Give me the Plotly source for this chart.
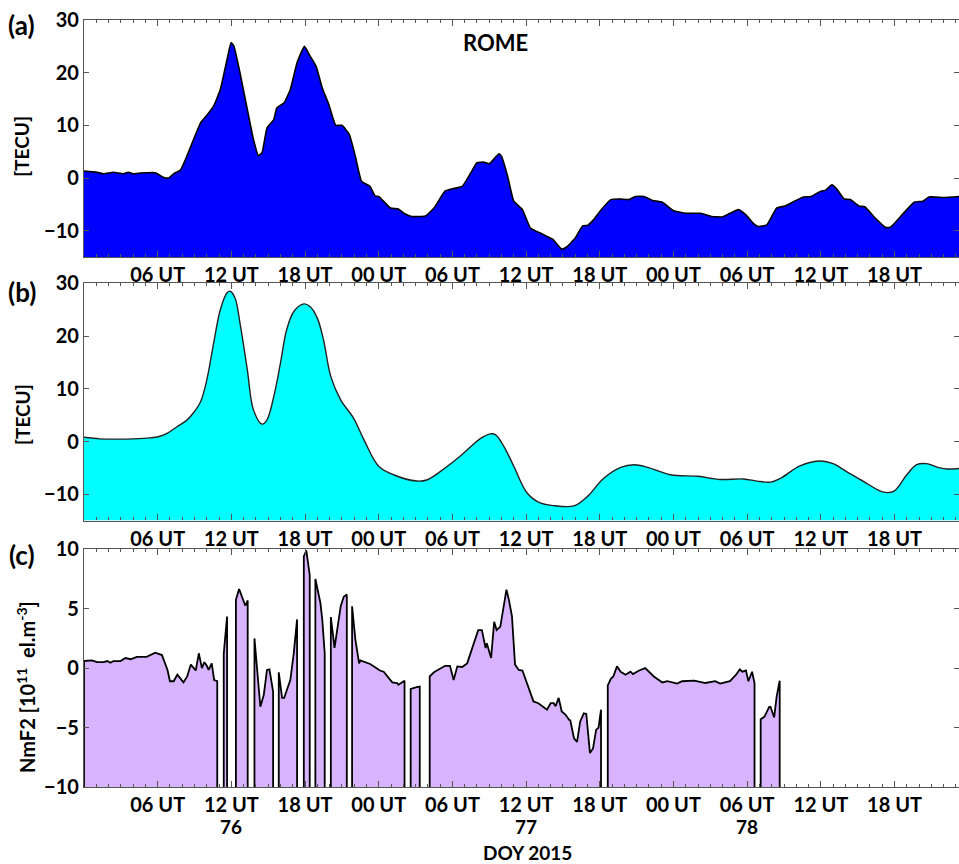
import math
import plotly.graph_objects as go

# ---------------- data (hours since DOY 76 00 UT) ----------------
tec_obs_hours = [0.0, 1.06, 1.6, 2.4, 3.2, 3.6, 4.0, 4.6, 5.1, 5.8, 6.5, 6.9, 7.3, 7.85, 8.26, 8.7,
                 9.5, 10.0, 10.56, 11.1, 11.65, 11.98, 12.2, 12.7, 13.3, 13.8, 14.2, 14.5, 14.9,
                 15.45, 15.7, 16.3, 16.8, 17.35, 17.95, 18.4, 18.9, 19.4, 19.93, 20.5, 21.0, 21.6,
                 22.1, 22.6, 23.3, 23.7, 24.0, 24.95, 25.6, 26.04, 26.7, 27.8, 28.5, 29.4, 30.1,
                 30.8, 31.5, 32.0, 32.6, 33.0, 33.8, 34.0, 34.5, 35.0, 35.7, 36.35, 37.2, 37.8,
                 38.2, 38.9, 39.3, 40.0, 40.6, 41.0, 41.5, 42.05, 42.9, 43.7, 44.35, 44.9, 45.6,
                 46.3, 47.1, 48.0, 49.1, 50.2, 51.1, 51.96, 52.6, 53.3, 53.9, 54.5, 54.9, 55.6,
                 56.4, 57.1, 58.1, 58.6, 59.2, 60.0, 60.4, 60.9, 61.3, 61.9, 62.4, 63.1, 63.6,
                 64.3, 65.3, 65.7, 66.5, 67.6, 68.3, 68.8, 70.0, 71.3]
tec_obs_values = [1.3, 1.1, 0.8, 1.1, 0.8, 1.1, 0.8, 0.95, 1.0, 1.0, 0.1, 0.0, 0.8, 1.5, 3.5, 6.0,
                  10.5, 11.9, 13.7, 16.8, 22.5, 25.7, 25.1, 20.0, 13.0, 7.3, 4.25, 4.8, 9.5,
                  11.1, 13.3, 14.3, 16.8, 21.9, 25.0, 23.2, 21.2, 17.1, 14.0, 10.0, 10.0, 8.3,
                  4.1, -0.6, -1.6, -3.4, -3.5, -5.7, -5.9, -6.7, -7.3, -7.2, -5.7, -2.5, -2.0,
                  -1.6, 1.0, 2.9, 3.0, 2.7, 4.6, 4.1, 0.3, -4.4, -6.0, -9.5, -10.5, -11.2,
                  -11.7, -13.5, -13.1, -11.4, -9.1, -9.0, -7.9, -6.2, -4.1, -4.0, -4.1, -3.5, -3.5,
                  -4.25, -4.6, -6.2, -6.7, -6.7, -7.3, -7.4, -6.7, -6.0, -7.0, -8.6, -9.2, -8.9,
                  -5.7, -5.3, -4.1, -3.6, -3.5, -2.5, -2.3, -1.3, -2.1, -4.0, -4.1, -5.3, -5.5,
                  -7.3, -9.4, -9.3, -7.3, -4.6, -4.4, -3.6, -3.7, -3.5]

tec_model_hours = [0.0, 1.3, 2.7, 4.05, 5.4, 6.1, 6.8, 7.6, 8.4, 8.9, 9.5, 10.0, 10.56, 11.1, 11.65,
                   11.9, 12.3, 12.7, 13.3, 13.8, 14.5, 14.9, 15.45, 16.0, 16.5, 17.1, 17.9, 18.4,
                   19.0, 19.5, 20.1, 20.9, 21.96, 22.8, 24.0, 25.2, 27.1, 27.9, 29.0, 30.6, 32.3,
                   33.1, 33.5, 34.2, 35.0, 36.1, 37.2, 38.1, 39.9, 41.0, 42.3, 43.7, 44.8, 45.9,
                   47.75, 50.0, 51.8, 53.7, 54.8, 55.9, 56.7, 58.3, 60.0, 61.0, 62.1, 63.5, 65.1,
                   65.95, 67.0, 67.8, 68.6, 69.7, 70.3, 71.3]
tec_model_values = [0.8, 0.5, 0.45, 0.5, 0.7, 0.95, 1.6, 2.85, 4.1, 5.4, 7.6, 11.7, 18.7, 25.0, 28.2,
                    28.5, 27.2, 22.5, 13.6, 6.0, 3.3, 4.1, 8.5, 14.9, 21.2, 24.7, 26.1, 25.6,
                    23.4, 19.3, 12.3, 7.9, 4.4, 0.3, -4.7, -6.3, -7.5, -7.3, -5.7, -2.85, 0.6,
                    1.45, 1.3, -0.95, -4.7, -9.8, -11.7, -12.1, -12.2, -10.4, -7.0, -4.9, -4.4, -4.9,
                    -6.3, -6.6, -7.2, -7.1, -7.5, -7.7, -7.0, -4.6, -3.7, -4.2, -5.7, -7.6, -9.6,
                    -9.4, -6.3, -4.4, -4.2, -5.0, -5.2, -5.1]

NAN = float("nan")
nmf2_hours = [0.0, 0.65, 1.07, 1.6, 1.9, 2.15, 2.4, 2.97, 3.37, 3.8, 4.3, 5.1, 5.8, 6.35, 6.8, 7.0,
              7.3, 7.6, 7.85, 8.1, 8.4, 8.7, 9.1, 9.35, 9.6, 9.8, 10.0, 10.15, 10.4, 10.6, 10.85, NAN,
              11.38, 11.65, NAN,
              12.37, 12.63, 13.14, 13.33, NAN,
              13.88, 14.36, 14.64, 14.9, 15.1, 15.4, NAN,
              15.86, 16.13, 16.3, 16.8, 17.08, 17.35, NAN,
              17.9, 18.1, 18.38, NAN,
              18.84, 19.25, 19.4, 19.6, NAN,
              20.1, 20.4, 20.9, 21.15, 21.4, NAN,
              21.83, 22.1, 22.4, 22.5, 23.3, 24.1, 24.4, 25.1, 25.5, 25.6, 26.1, NAN,
              26.6, 27.1, 27.34, NAN,
              28.15, 28.5, 28.9, 29.0, 29.4, 29.8, 30.1, 30.4, 30.8, 31.2, 31.6, 32.0, 32.1, 32.4,
              32.7, 32.8, 32.95, 33.15, 33.4, 33.6, 33.9, 34.4, 34.6, 34.85, 35.1, 35.4, 35.7, 36.1,
              36.6, 37.0, 37.7, 38.0, 38.25, 38.4, 38.65, 38.9, 39.2, 39.5, 39.6, 39.9, 40.15, 40.4,
              40.7, 40.9, 41.2, 41.45, 41.7, 41.9, 42.1, NAN,
              42.65, 42.9, 43.1, 43.4, 43.7, 44.1, 44.5, 44.7, 45.2, 45.7, 46.4, 47.1, 47.5, 48.3,
              48.7, 49.7, 50.6, 51.4, 51.8, 52.6, 53.1, 53.4, 53.6, 53.9, 54.1, 54.4, 54.6, NAN,
              55.1, 55.4, 55.8, 55.9, 56.2, 56.4, 56.65]
nmf2_values = [0.6, 0.65, 0.5, 0.5, 0.6, 0.45, 0.6, 0.6, 0.85, 0.75, 0.95, 0.95, 1.3, 1.1, -0.15, -1.1,
               -1.1, -0.55, -0.85, -1.2, -0.7, 0.3, -0.2, 1.25, 0.0, 0.5, 0.2, -0.15, 0.4, -1.0, -1.1, NAN,
               1.2, 4.35, NAN,
               5.75, 6.65, 5.25, 5.7, NAN,
               2.5, -3.25, -2.25, -0.15, -0.1, -2.0, NAN,
               -0.35, -2.5, -2.5, -1.0, 1.25, 4.1, NAN,
               9.4, 9.9, 7.85, NAN,
               7.5, 5.5, 4.1, 1.25, NAN,
               4.3, 1.7, 5.2, 6.0, 6.2, NAN,
               5.2, 2.4, 0.4, 0.65, 0.35, -0.2, -0.3, -1.2, -1.25, -1.4, -1.05, NAN,
               -1.75, -1.6, -1.55, NAN,
               -0.7, -0.35, -0.1, 0.0, 0.2, 0.2, -1.0, 0.15, 0.1, 0.4, 1.7, 2.95, 3.2, 3.2,
               1.7, 2.1, 1.6, 0.85, 3.9, 3.2, 3.5, 6.6, 5.75, 4.35, 0.3, -0.15, -0.2, -1.4,
               -2.8, -2.95, -3.5, -2.95, -2.95, -3.2, -2.5, -3.65, -3.9, -4.35, -4.4, -5.9, -6.2, -4.5,
               -3.8, -3.85, -7.15, -6.75, -5.2, -5.0, -3.5, NAN,
               -1.45, -0.9, -0.7, 0.15, -0.3, -0.55, -0.3, -0.5, -0.2, 0.0, -0.7, -1.2, -1.1, -1.3,
               -1.1, -1.05, -1.25, -1.1, -1.3, -1.1, -0.55, -0.1, -0.3, -0.2, -1.1, -0.3, -1.25, NAN,
               -4.3, -4.1, -3.25, -3.25, -4.15, -2.4, -1.05]

tick_hours = [6, 12, 18, 24, 30, 36, 42, 48, 54, 60, 66]
tick_labels = ["06 UT", "12 UT", "18 UT", "00 UT", "06 UT", "12 UT", "18 UT",
               "00 UT", "06 UT", "12 UT", "18 UT"]
day_hours = [12, 36, 54]
day_labels = ["76", "77", "78"]
tec_range = [-15, 30]
nmf2_range = [-10, 10]
x_range = [0, 71.25]

# ---------------- figure ----------------
FONT = "Lato"
fig = go.Figure()

# panel (a): observed TEC, filled down to the axis floor
fig.add_trace(go.Scatter(x=tec_obs_hours, y=[tec_range[0]] * len(tec_obs_hours),
                         mode="lines", line=dict(width=0), hoverinfo="skip",
                         showlegend=False, xaxis="x", yaxis="y"))
fig.add_trace(go.Scatter(x=tec_obs_hours, y=tec_obs_values, mode="lines",
                         fill="tonexty", fillcolor="#0000FF",
                         line=dict(color="black", width=1.6, shape="spline", smoothing=0.4),
                         showlegend=False, xaxis="x", yaxis="y"))

# panel (b): model TEC
fig.add_trace(go.Scatter(x=tec_model_hours, y=[tec_range[0]] * len(tec_model_hours),
                         mode="lines", line=dict(width=0), hoverinfo="skip",
                         showlegend=False, xaxis="x2", yaxis="y2"))
fig.add_trace(go.Scatter(x=tec_model_hours, y=tec_model_values, mode="lines",
                         fill="tonexty", fillcolor="#00FFFF",
                         line=dict(color="#222222", width=1.4, shape="spline", smoothing=1.0),
                         showlegend=False, xaxis="x2", yaxis="y2"))

# panel (c): NmF2 segments separated by data gaps
segments = []
cur_x, cur_y = [], []
for h, v in zip(nmf2_hours, nmf2_values):
    if math.isnan(h):
        if cur_x:
            segments.append((cur_x, cur_y))
        cur_x, cur_y = [], []
    else:
        cur_x.append(h)
        cur_y.append(v)
if cur_x:
    segments.append((cur_x, cur_y))

floor = nmf2_range[0]
for sx, sy in segments:
    px = [sx[0]] + sx + [sx[-1]]
    py = [floor] + sy + [floor]
    fig.add_trace(go.Scatter(x=px, y=py, mode="lines", fill="toself",
                             fillcolor="#D8B4FE",
                             line=dict(color="black", width=1.8),
                             showlegend=False, xaxis="x3", yaxis="y3"))

axis_line = dict(showline=True, linecolor="#555555", linewidth=1.3, mirror="allticks",
                 ticks="inside", tickcolor="#555555", showgrid=False, zeroline=False)
tick_font = dict(family=FONT, size=20, color="black", weight="bold")

def xaxis_cfg(anchor):
    return dict(range=x_range, tickmode="array", tickvals=tick_hours, ticktext=tick_labels,
                ticklen=6, tickwidth=1.3, anchor=anchor, tickfont=tick_font,
                minor=dict(tickmode="linear", tick0=0, dtick=1, ticks="inside",
                           ticklen=3, tickcolor="#555555", tickwidth=1),
                **axis_line)

def yaxis_cfg(anchor, rng, dtick, domain):
    return dict(range=rng, dtick=dtick, tick0=0, ticklen=5, tickwidth=1.3, anchor=anchor,
                domain=domain, tickfont=tick_font, **axis_line)

fig.update_layout(
    width=959, height=864,
    margin=dict(l=84, r=0, t=20, b=77),
    paper_bgcolor="white", plot_bgcolor="white",
    xaxis=xaxis_cfg("y"),
    xaxis2=xaxis_cfg("y2"),
    xaxis3=xaxis_cfg("y3"),
    yaxis=yaxis_cfg("x", tec_range, 10, [0.691, 1.0]),
    yaxis2=yaxis_cfg("x2", tec_range, 10, [0.3473, 0.6567]),
    yaxis3=yaxis_cfg("x3", nmf2_range, 5, [0.0, 0.3099]),
)

def ann(text, x, y, xref="paper", yref="paper", size=19, angle=0):
    return dict(text=text, x=x, y=y, xref=xref, yref=yref, showarrow=False,
                xanchor="center", yanchor="middle", textangle=angle,
                font=dict(family=FONT, size=size, color="black", weight="bold"))

annotations = [
    ann("ROME", 33.5, 25.8, "x", "y", size=22),
    ann("(a)", -0.0709, 0.9935, size=26),
    ann("(b)", -0.0709, 0.6454, size=26),
    ann("(c)", -0.0709, 0.3030, size=26),
    ann("[TECU]", -0.0709, 0.836, size=19, angle=-90),
    ann("[TECU]", -0.0709, 0.4863, size=19, angle=-90),
    ann("NmF2 [10<sup>11</sup>  el.m<sup>-3</sup>]", -0.0663, 0.1304, size=20, angle=-90),
    ann("DOY 2015", 36.1, -0.0854, "x3", "paper", size=19),
]
for h, lab in zip(day_hours, day_labels):
    annotations.append(ann(lab, h, -0.0518, "x3", "paper", size=19))
fig.update_layout(annotations=annotations)

fig.write_html("out.html")
